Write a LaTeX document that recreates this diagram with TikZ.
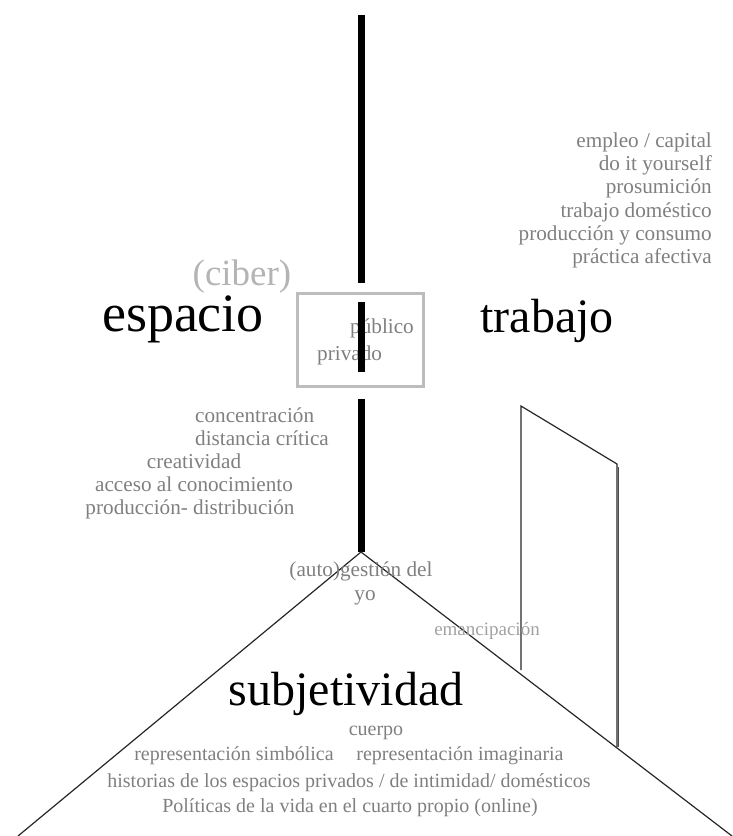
\documentclass[tikz,border=0pt]{standalone}
\usepackage{fontspec}
\setmainfont{Liberation Serif}
\usepackage{xcolor}

\definecolor{txtgray}{HTML}{7F7F7F}
\definecolor{palegray}{HTML}{B4B4B4}
\definecolor{boxgray}{HTML}{BDBDBD}

\begin{document}
\begin{tikzpicture}[
		x=1pt, y=-1pt,
		big/.style={
			inner sep=0pt, text=black,
			font=\fontsize{48}{52}\selectfont
		},
		note/.style={
			inner sep=0pt, text=txtgray,
			font=\fontsize{21.2}{23.3}\selectfont
		},
		low/.style={
			note, font=\fontsize{20}{23}\selectfont
		},
		faint/.style={
			inner sep=0pt, text=palegray,
			font=\fontsize{19}{21}\selectfont
		},
		axis/.style={line width=7pt, black},
		edge/.style={line width=1.2pt, black!85},
		]
		
		\useasboundingbox (0,0) rectangle (732,836);
		
		% main words
		\node[big, anchor=base, font=\fontsize{54}{58}\selectfont] (espacio) at (183, 331) {espacio};
		\node[big, anchor=base] (trabajo) at (547, 332) {trabajo};
		\node[big, anchor=base] (subj)    at (346, 705) {subjetividad};
		\node[faint, anchor=base, font=\fontsize{37}{40}\selectfont] (ciber) at (242, 285) {(ciber)};
		
		% trabajo list
		\node[note, anchor=base east] (t1) at (712, 147) {empleo / capital};
		\node[note, anchor=base east] (t2) at (712, 170) {do it yourself};
		\node[note, anchor=base east] (t3) at (712, 193) {prosumición};
		\node[note, anchor=base east] (t4) at (712, 217) {trabajo doméstico};
		\node[note, anchor=base east] (t5) at (712, 240) {producción y consumo};
		\node[note, anchor=base east] (t6) at (712, 263) {práctica afectiva};
		
		% espacio list
		\node[note, anchor=base west] (e1) at (195, 422) {concentración};
		\node[note, anchor=base west] (e2) at (195, 445) {distancia crítica};
		\node[note, anchor=base] (e3) at (194, 468) {creatividad};
		\node[note, anchor=base] (e4) at (194, 491) {acceso al conocimiento};
		\node[note, anchor=base] (e5) at (190, 514) {producción- distribución};
		
		% box
		\coordinate (boxsw) at (297, 386);
		\coordinate (boxne) at (423, 293);
		\draw[boxgray, line width=3pt] (boxsw) rectangle (boxne);
		\node[note, anchor=base west] (pub)  at (350, 333) {público};
		\node[note, anchor=base west] (priv) at (317, 360) {privado};
		
		% vertical axis
		\coordinate (top)  at (361, 15);
		\coordinate (gap1) at (361, 283);
		\coordinate (in1)  at (361, 302);
		\coordinate (in2)  at (361, 372);
		\coordinate (gap2) at (361, 399);
		\coordinate (apex) at (361, 552);
		\draw[axis] (top) -- (gap1);
		\draw[axis] (in1) -- (in2);
		\draw[axis] (gap2) -- (apex);
		
		% roof
		\coordinate (left)  at (18, 836);
		\coordinate (right) at (732, 836);
		\draw[edge] (left) -- (apex) -- (right);
		
		% door
		\coordinate (dtl) at (521, 406);
		\coordinate (dbl) at (521, 670);
		\coordinate (dtr) at (617, 464);
		\coordinate (dbr) at (617, 747);
		\draw[edge] (dbl) -- (dtl) -- (dtr) -- (dbr);
		\draw[black!70, line width=1.2pt] ([xshift=1.5pt, yshift=-3pt]dtr) -- ([xshift=1.5pt]dbr);
		
		% subjetividad notes
		\node[note, anchor=base] (yo1) at (361, 576) {(auto)gestión del};
		\node[note, anchor=base] (yo2) at (365, 600) {yo};
		\node[faint, text=palegray!90!black, anchor=base] (eman) at (487, 635) {emancipación};
		\node[low, anchor=base] (s1) at (376, 735) {cuerpo};
		\node[low, anchor=base] (s2) at (234, 760) {representación simbólica};
		\node[low, anchor=base] (s3) at (460, 760) {representación imaginaria};
		\node[low, anchor=base] (s4) at (349, 787) {historias de los espacios privados / de intimidad/ domésticos};
		\node[low, anchor=base] (s5) at (350, 812) {Políticas de la vida en el cuarto propio (online)};
		
	\end{tikzpicture}
\end{document}
